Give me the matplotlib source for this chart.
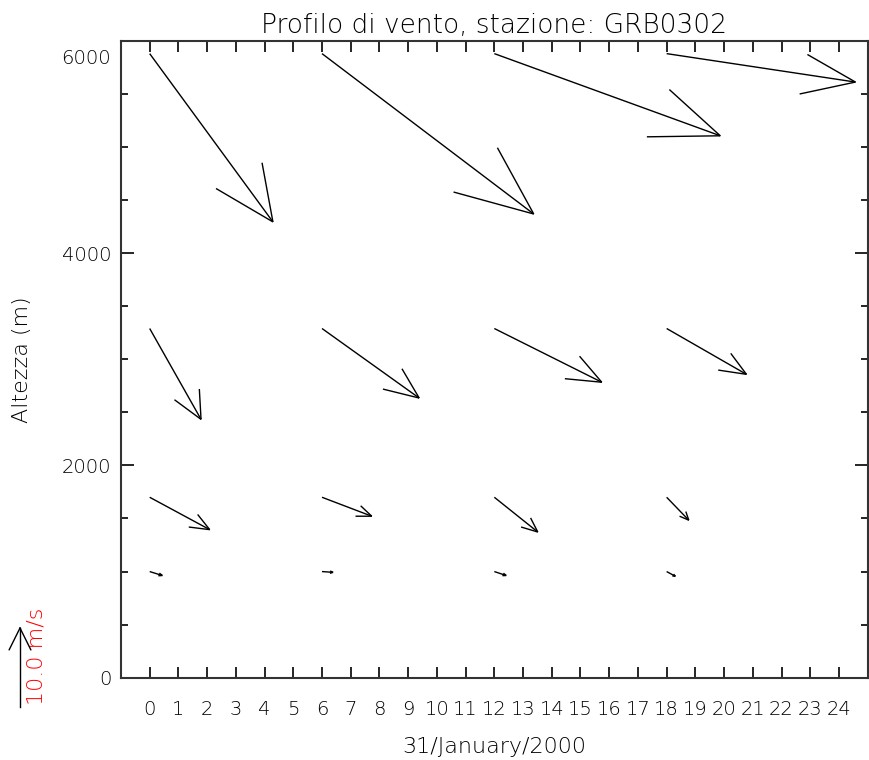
import numpy as np
import matplotlib
matplotlib.use("Agg")
import matplotlib.pyplot as plt
from matplotlib.transforms import ScaledTranslation

# --- data -------------------------------------------------------------
hours = [0, 6, 12, 18]                      # sounding times (h)
levels = [1000, 1700, 3290, 5880]           # heights of the wind vectors (m)
# wind components in m/s, one row per level, one column per hour
u_wind = [[1.6, 1.4, 1.5, 1.1],
          [7.6, 6.3, 5.5, 2.8],
          [6.5, 12.3, 13.6, 10.1],
          [15.6, 26.8, 28.6, 23.9]]
v_wind = [[-0.5, -0.1, -0.5, -0.6],
          [-4.1, -2.4, -4.4, -2.9],
          [-11.5, -8.8, -6.8, -5.8],
          [-21.3, -20.3, -10.4, -3.6]]
ref_speed = 10.0                            # legend arrow (m/s)
x_ticks = list(range(0, 25))
y_major = [0, 2000, 4000, 6000]
y_minor = list(range(0, 6001, 500))

title = "Profilo di vento, stazione: GRB0302"
xlabel = "31/January/2000"
ylabel = "Altezza (m)"
ref_label = f"{ref_speed:.1f} m/s"

# --- styling ----------------------------------------------------------
PX_PER_MS = 7.9          # arrow length in pixels per m/s
HEAD_FRAC = 0.3          # head length as a fraction of the arrow length
HEAD_ANGLE = np.deg2rad(23.5)
INK = "black"
WEIGHT = "light"

plt.rcParams["font.family"] = ["DejaVu Sans"]
plt.rcParams["font.weight"] = WEIGHT
plt.rcParams["axes.titleweight"] = WEIGHT
plt.rcParams["axes.labelweight"] = WEIGHT

fig = plt.figure(figsize=(8.69, 7.60), dpi=100)
ax = fig.add_axes([0.1392, 0.1083, 0.8593, 0.8379])
ax.set_xlim(-1, 25)
ax.set_ylim(0, 6000)

for s in ax.spines.values():
    s.set_color("#333333")
    s.set_linewidth(1.5)

ax.set_xticks(x_ticks)
ax.set_xticklabels([str(h) for h in x_ticks])
ax.set_yticks(y_major)
ax.set_yticklabels([str(v) for v in y_major])
ax.set_yticks(y_minor, minor=True)
ax.tick_params(axis="x", which="major", direction="in", length=8, width=1.2,
               top=True, bottom=True, labelsize=14, pad=16, colors=INK)
ax.tick_params(axis="y", which="major", direction="in", length=9.4, width=1.2,
               left=True, right=True, labelsize=14, pad=7, colors=INK)
ax.tick_params(axis="y", which="minor", direction="in", length=5, width=1.2,
               left=True, right=True)

# top label sits just below the upper edge
fig.canvas.draw()
top_lab = ax.yaxis.get_major_ticks()[-1].label1
top_lab.set_transform(top_lab.get_transform()
                      + ScaledTranslation(0, -16 / 100, fig.dpi_scale_trans))

ax.set_title(title, fontsize=19, color=INK, pad=6, fontweight=WEIGHT)
ax.set_xlabel(xlabel, fontsize=16, color=INK, va="center", fontweight=WEIGHT)
ax.xaxis.set_label_coords(0.5, -0.1088)
ax.set_ylabel(ylabel, fontsize=16, color=INK, va="center", fontweight=WEIGHT)
ax.yaxis.set_label_coords(-0.1325, 0.5)

W, H = fig.bbox.width, fig.bbox.height


def arrow_pixels(base_px, u, v):
    """Shaft and open head of a wind arrow, in display pixels."""
    base_px = np.asarray(base_px, float)
    tip_px = base_px + np.array([u, v]) * PX_PER_MS
    # head built in normalized figure units
    d = (tip_px - base_px) / [W, H]
    length = np.hypot(*d)
    segs = [np.array([base_px, tip_px])]
    if length > 0:
        back = -d / length * HEAD_FRAC * length
        for sgn in (1, -1):
            c, s = np.cos(sgn * HEAD_ANGLE), np.sin(sgn * HEAD_ANGLE)
            h = np.array([back[0] * c - back[1] * s, back[0] * s + back[1] * c])
            end_px = tip_px + h * [W, H]
            segs.append(np.array([tip_px, end_px]))
    return segs


to_data = ax.transData.inverted()
for i, z in enumerate(levels):
    for j, t in enumerate(hours):
        base = ax.transData.transform((t, z))
        for seg in arrow_pixels(base, u_wind[i][j], v_wind[i][j]):
            pts = to_data.transform(seg)
            ax.plot(pts[:, 0], pts[:, 1], color="black", lw=1.0,
                    solid_capstyle="butt", clip_on=False)

# reference arrow in the lower-left corner
ref_base = fig.transFigure.transform((20 / 869, 53 / 760))
to_fig = fig.transFigure.inverted()
for seg in arrow_pixels(ref_base, 0.0, ref_speed):
    pts = to_fig.transform(seg)
    fig.add_artist(plt.Line2D(pts[:, 0], pts[:, 1], color="black", lw=1.0,
                              transform=fig.transFigure))
fig.text(36 / 869, 55 / 760, ref_label, rotation=90, color="red",
         fontsize=16, ha="center", va="bottom", fontweight=WEIGHT)

fig.savefig("out.png", dpi=100)
